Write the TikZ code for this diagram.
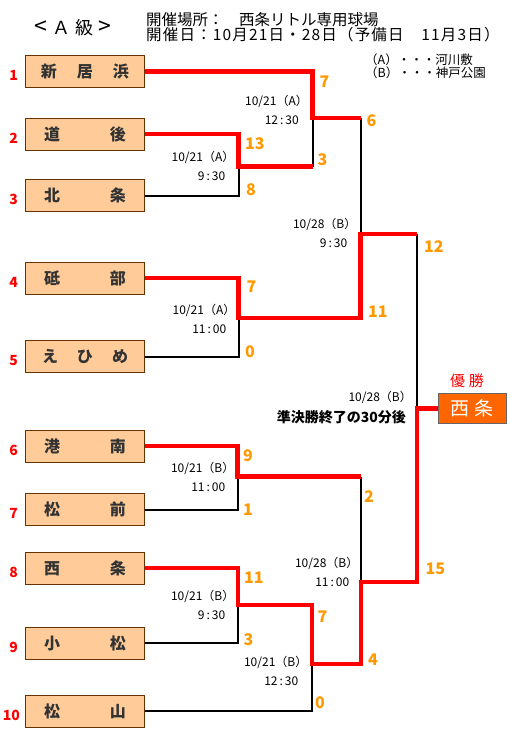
\documentclass[tikz,border=0pt]{standalone}
\usepackage{fontspec}
\setmainfont{Noto Sans CJK JP}
\usetikzlibrary{positioning}
\definecolor{peach}{HTML}{FFCC99}
\definecolor{boxedge}{HTML}{663300}
\definecolor{ptscol}{HTML}{FF9900}
\definecolor{champfill}{HTML}{FF6600}

\begin{document}
\begin{tikzpicture}[x=1pt,y=-1pt,
    team/.style={draw=boxedge,line width=0.9pt,fill=peach,minimum width=119pt,minimum height=32pt,inner sep=0pt,text=black!80,font=\fontsize{16}{16}\selectfont\bfseries},
    seed/.style={text=red,inner sep=0pt,font=\fontsize{14}{14}\selectfont\bfseries},
    score/.style={text=ptscol,anchor=west,inner sep=0pt,font=\fontsize{16}{16}\selectfont\bfseries},
    sched/.style={anchor=east,align=right,inner sep=0pt,font=\fontsize{12}{19}\selectfont},
    lose/.style={line width=2pt},
    win/.style={line width=4.2pt,red},
  ]
    \useasboundingbox (0,0) rectangle (510,737);

    \node[font=\fontsize{18}{18}\selectfont] (title) at (73,28) {{\fontsize{23}{23}\selectfont<}\hspace{5pt}Ａ\hspace{5pt}級\hspace{5pt}{\fontsize{23}{23}\selectfont>}};
    \node[anchor=west,inner sep=0pt,font=\fontsize{15.5}{15.5}\selectfont] (place) at (146,19.7) {開催場所：　西条リトル専用球場};
    \node[anchor=west,inner sep=0pt,font=\fontsize{15.5}{15.5}\selectfont\addfontfeatures{LetterSpace=7.5}] (day) at (146,35) {開催日：10月21日・28日（予備日　11月3日）};
    \node[anchor=west,align=left,inner sep=0pt,font=\fontsize{12.5}{13}\selectfont] (legend) at (365,66.5) {（A）・・・河川敷\\（B）・・・神戸公園};

    \node[team] (t1) at (85,71.5) {\makebox[88pt]{新\hfill 居\hfill 浜}};
    \node[team] (t2) at (85,134.3) {\makebox[82pt]{道\hfill 後}};
    \node[team] (t3) at (85,195.5) {\makebox[82pt]{北\hfill 条}};
    \node[team] (t4) at (85,278) {\makebox[82pt]{砥\hfill 部}};
    \node[team] (t5) at (85,356.5) {\makebox[86pt]{え\hfill ひ\hfill め}};
    \node[team] (t6) at (85,446) {\makebox[82pt]{港\hfill 南}};
    \node[team] (t7) at (85,509.5) {\makebox[82pt]{松\hfill 前}};
    \node[team] (t8) at (85,568) {\makebox[82pt]{西\hfill 条}};
    \node[team] (t9) at (85,643) {\makebox[82pt]{小\hfill 松}};
    \node[team] (t10) at (85,711) {\makebox[82pt]{松\hfill 山}};

    \node[seed, left=7pt of t1, yshift=-4pt] (n1) {1};
    \node[seed, left=7pt of t2, yshift=-4pt] (n2) {2};
    \node[seed, left=7pt of t3, yshift=-4pt] (n3) {3};
    \node[seed, left=7pt of t4, yshift=-4pt] (n4) {4};
    \node[seed, left=7pt of t5, yshift=-4pt] (n5) {5};
    \node[seed, left=7pt of t6, yshift=-4pt] (n6) {6};
    \node[seed, left=7pt of t7, yshift=-4pt] (n7) {7};
    \node[seed, left=7pt of t8, yshift=-4pt] (n8) {8};
    \node[seed, left=7pt of t9, yshift=-4pt] (n9) {9};
    \node[seed, left=5pt of t10, yshift=-4pt] (n10) {10};

    \node[draw=black!60,line width=0.9pt,fill=champfill,minimum width=68pt,minimum height=30pt,inner sep=0pt,text=white,font=\fontsize{19}{19}\selectfont] (champ) at (472,408.5) {西\hspace{5pt}条};
    \node[text=red,font=\fontsize{15}{15}\selectfont] (yusho) at (467,381) {優\hspace{4pt}勝};

    \coordinate (m1) at (238.5,166.5);
    \coordinate (m2) at (312.5,118);
    \coordinate (m3) at (238.5,318.2);
    \coordinate (s1) at (360.5,234);
    \coordinate (m4) at (237.5,476.5);
    \coordinate (m5) at (238,605.3);
    \coordinate (m6) at (312,663.7);
    \coordinate (s2) at (361,582.2);
    \coordinate (fin) at (417,408.5);

    \draw[lose] (t3.east) -| (m1);
    \draw[lose] (m1 -| m2) -- (m2);
    \draw[lose] (t5.east) -| (m3);
    \draw[lose] (m2 -| s1) -- (s1);
    \draw[lose] (s1 -| fin) -- (fin);
    \draw[lose] (t7.east) -| (m4);
    \draw[lose] (m4 -| s2) -- (s2);
    \draw[lose] (t9.east) -| (m5);
    \draw[lose] (t10.east) -| (m6);

    \draw[win] (t2.east) -| (m1) -- (m1 -| m2);
    \draw[win] (t1.east) -| (m2) -- (m2 -| s1);
    \draw[win] (t4.east) -| (m3) -- (m3 -| s1) -- (s1) -- (s1 -| fin);
    \draw[win] (t6.east) -| (m4) -- (m4 -| s2);
    \draw[win] (t8.east) -| (m5) -- (m5 -| m6) -- (m6) -- (m6 -| s2) -- (s2) -- (s2 -| fin) -- (fin) -- (champ.west);

    \node[score] (p1) at (319.5,81.5) {7};
    \node[score] (p2) at (245,143.7) {13};
    \node[score] (p3) at (246,190) {8};
    \node[score] (p4) at (317.5,159.7) {3};
    \node[score] (p5) at (366.5,120.8) {6};
    \node[score] (p6) at (246.5,287) {7};
    \node[score] (p7) at (245,351.2) {0};
    \node[score] (p8) at (368,311.7) {11};
    \node[score] (p9) at (424,246.7) {12};
    \node[score] (p10) at (243,455.5) {9};
    \node[score] (p11) at (243,510) {1};
    \node[score] (p12) at (364,496.3) {2};
    \node[score] (p13) at (244,577.5) {11};
    \node[score] (p14) at (243.5,640) {3};
    \node[score] (p15) at (317.5,616.3) {7};
    \node[score] (p16) at (315,703) {0};
    \node[score] (p17) at (368,659.3) {4};
    \node[score] (p18) at (425.5,568.8) {15};

    \node[sched] (d1) at (234.5,165.5) {10/21（A）\\9\,:\,30\hspace*{9pt}};
    \node[sched] (d2) at (308,110) {10/21（A）\\12\,:\,30\hspace*{9pt}};
    \node[sched] (d3) at (235.5,318.8) {10/21（A）\\11\,:\,00\hspace*{9pt}};
    \node[sched] (d4) at (356.5,232.7) {10/28（B）\\9\,:\,30\hspace*{9pt}};
    \node[sched] (d5) at (406,407.7) {10/28（B）\hspace*{-6pt}\\[2pt]{\fontsize{14}{14}\selectfont\bfseries 準決勝終了の30分後}};
    \node[sched] (d6) at (234.5,477) {10/21（B）\\11\,:\,00\hspace*{9pt}};
    \node[sched] (d7) at (234.5,604.7) {10/21（B）\\9\,:\,30\hspace*{9pt}};
    \node[sched] (d8) at (358.5,572) {10/28（B）\\11\,:\,00\hspace*{9pt}};
    \node[sched] (d9) at (307.5,670.5) {10/21（B）\\12\,:\,30\hspace*{9pt}};
  \end{tikzpicture}
\end{document}
